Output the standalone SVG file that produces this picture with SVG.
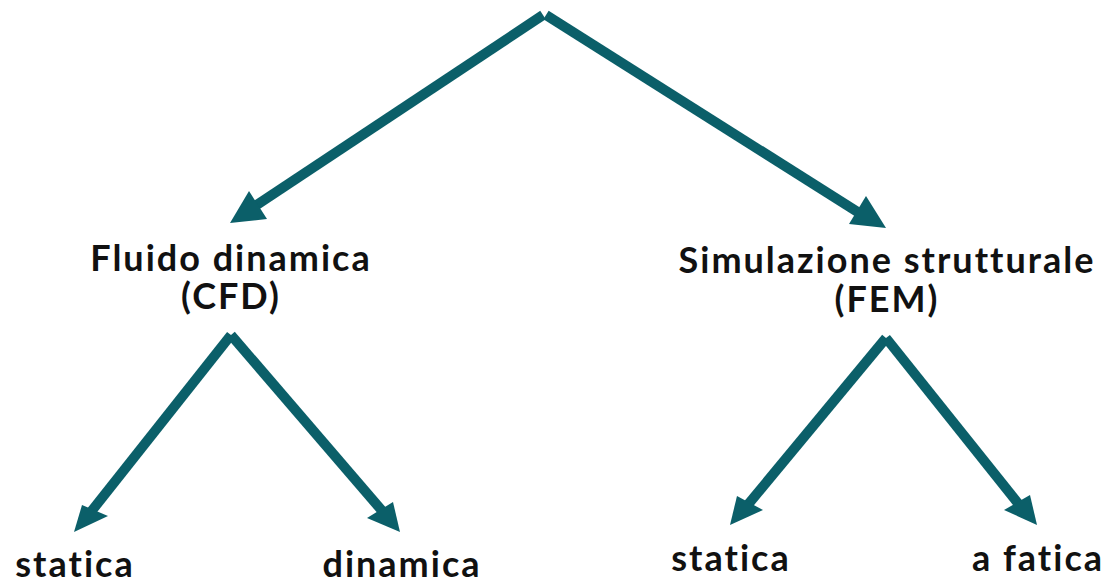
<svg xmlns="http://www.w3.org/2000/svg" width="1110" height="582" viewBox="0 0 1110 582">
<style>
.lbl{font-family:Lato,"Open Sans","Liberation Sans",sans-serif;font-weight:700;font-size:36px;letter-spacing:2px;fill:#111;text-anchor:middle}
.ln{stroke:#0b5f69;stroke-width:10;fill:none}
.hd{fill:#0b5f69}
</style>
<rect width="1110" height="582" fill="#fff"/>
<g id="connectors">
<line class="ln" x1="543" y1="15" x2="252" y2="208"/>
<polygon class="hd" points="230,223 249,191 267,219"/>
<line class="ln" x1="546" y1="15" x2="864" y2="216"/>
<polygon class="hd" points="886,228 866,196 849,224"/>
<line class="ln" x1="231" y1="335" x2="90" y2="513"/>
<polygon class="hd" points="74,532 82,505 108,516"/>
<line class="ln" x1="231" y1="335" x2="384" y2="513"/>
<polygon class="hd" points="400,532 393,502 367,518"/>
<line class="ln" x1="886" y1="338" x2="746" y2="507"/>
<polygon class="hd" points="730,525 737,496 763,510"/>
<line class="ln" x1="886" y1="338" x2="1021" y2="507"/>
<polygon class="hd" points="1037,525 1030,495 1004,510"/>
</g>
<g id="node-cfd"><text class="lbl" x="231" y="271">Fluido dinamica</text><text class="lbl" x="231" y="309">(CFD)</text></g>
<g id="node-fem"><text class="lbl" x="887" y="273">Simulazione strutturale</text><text class="lbl" x="887" y="312">(FEM)</text></g>
<g id="node-cfd-statica"><text class="lbl" x="75" y="577">statica</text></g>
<g id="node-cfd-dinamica"><text class="lbl" x="402" y="577">dinamica</text></g>
<g id="node-fem-statica"><text class="lbl" x="731" y="571">statica</text></g>
<g id="node-fem-fatica"><text class="lbl" x="1038" y="571">a fatica</text></g>
</svg>
